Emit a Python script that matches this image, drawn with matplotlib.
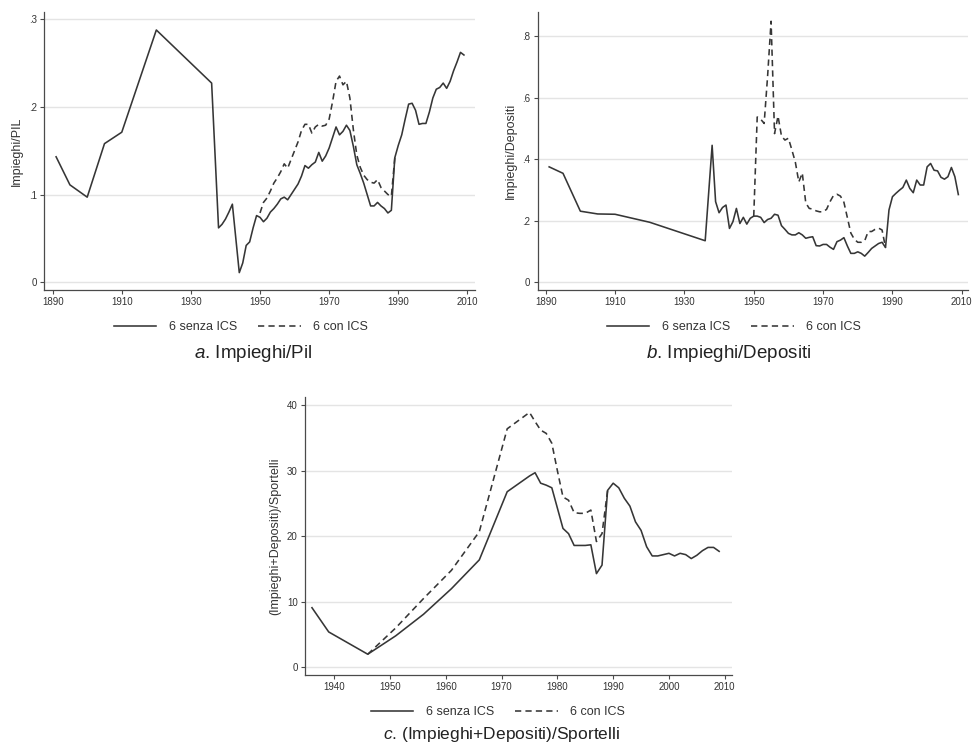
import matplotlib
matplotlib.use("Agg")
import matplotlib.pyplot as plt

plt.rcParams['font.family'] = ['Liberation Sans', 'DejaVu Sans']
plt.rcParams['mathtext.fontset'] = 'custom'
plt.rcParams['mathtext.rm'] = 'Liberation Sans'
plt.rcParams['mathtext.it'] = 'Liberation Sans:italic'
plt.rcParams['lines.scale_dashes'] = False

# anni comuni ai pannelli a e b
anni_ab = [1891, 1895, 1900, 1905, 1910, 1920, 1936] + list(range(1938, 2010))
anni_ics_ab = list(range(1950, 1990))

# a. Impieghi/Pil
pil_senza = [0.143, 0.111, 0.097, 0.158, 0.171, 0.2875, 0.227,
             0.062, 0.066, 0.072, 0.080, 0.089, 0.050, 0.011, 0.022, 0.042, 0.046,
             0.062, 0.076, 0.074, 0.069, 0.073, 0.080, 0.084, 0.089, 0.095, 0.097,
             0.094, 0.100, 0.106, 0.112, 0.121, 0.133, 0.130, 0.134, 0.137, 0.148,
             0.138, 0.144, 0.153, 0.165, 0.177, 0.168, 0.172, 0.179, 0.173, 0.155,
             0.134, 0.124, 0.113, 0.100, 0.087, 0.087, 0.091, 0.087, 0.084, 0.079,
             0.082, 0.142, 0.156, 0.168, 0.186, 0.203, 0.204, 0.196, 0.180, 0.181,
             0.181, 0.194, 0.210, 0.220, 0.222, 0.227, 0.221, 0.229, 0.241, 0.251,
             0.262, 0.259]
pil_con = [0.079, 0.091, 0.096, 0.104, 0.113, 0.119, 0.126, 0.135, 0.130, 0.140,
           0.150, 0.160, 0.173, 0.180, 0.180, 0.170, 0.177, 0.180, 0.178, 0.179,
           0.186, 0.206, 0.229, 0.235, 0.225, 0.229, 0.210, 0.174, 0.145, 0.131,
           0.122, 0.117, 0.114, 0.113, 0.117, 0.108, 0.104, 0.100, 0.098, 0.142]

# b. Impieghi/Depositi
dep_senza = [0.375, 0.354, 0.231, 0.222, 0.221, 0.195, 0.135,
             0.445, 0.262, 0.226, 0.243, 0.251, 0.175, 0.197, 0.240, 0.191, 0.211,
             0.189, 0.208, 0.215, 0.215, 0.211, 0.194, 0.204, 0.208, 0.221, 0.218,
             0.184, 0.172, 0.159, 0.154, 0.154, 0.161, 0.154, 0.143, 0.146, 0.148,
             0.119, 0.118, 0.123, 0.123, 0.114, 0.107, 0.132, 0.137, 0.145, 0.118,
             0.094, 0.094, 0.099, 0.094, 0.085, 0.097, 0.110, 0.118, 0.126, 0.130,
             0.113, 0.235, 0.278, 0.289, 0.299, 0.308, 0.332, 0.305, 0.291, 0.332,
             0.316, 0.316, 0.375, 0.386, 0.364, 0.362, 0.341, 0.335, 0.343, 0.373,
             0.343, 0.285]
dep_con = [0.215, 0.537, 0.530, 0.516, 0.670, 0.848, 0.483, 0.540, 0.475, 0.462,
           0.468, 0.430, 0.390, 0.326, 0.355, 0.258, 0.240, 0.238, 0.232, 0.229,
           0.229, 0.237, 0.262, 0.282, 0.286, 0.280, 0.260, 0.210, 0.160, 0.140,
           0.130, 0.130, 0.135, 0.165, 0.165, 0.172, 0.176, 0.170, 0.113]
anni_dep_con = list(range(1950, 1989))

# c. (Impieghi+Depositi)/Sportelli
anni_c = [1936, 1939, 1946, 1951, 1956, 1961, 1966, 1971] + list(range(1975, 2010))
sport_senza = [9.1, 5.4, 2.0, 4.8, 8.1, 12.0, 16.4, 26.8,
               29.2, 29.7, 28.1, 27.8, 27.4, 24.3, 21.2, 20.4, 18.6, 18.6, 18.6,
               18.7, 14.3, 15.6, 27.0, 28.1, 27.4, 25.8, 24.6, 22.2, 20.9, 18.4,
               17.0, 17.0, 17.2, 17.4, 17.0, 17.4, 17.2, 16.6, 17.1, 17.8, 18.3,
               18.3, 17.7]
anni_c_con = [1946, 1951, 1956, 1961, 1966, 1971] + list(range(1975, 1990))
sport_con = [2.0, 6.0, 10.5, 14.8, 20.7, 36.4,
             38.9, 37.5, 36.2, 35.7, 34.2, 30.0, 26.0, 25.5, 23.6, 23.5, 23.5,
             24.0, 19.2, 20.4, 27.0]

xticks_ab = [1890, 1910, 1930, 1950, 1970, 1990, 2010]
xticks_c = [1940, 1950, 1960, 1970, 1980, 1990, 2000, 2010]
yticks_a, ylab_a = [0, 0.1, 0.2, 0.3], ['0', '.1', '.2', '.3']
yticks_b, ylab_b = [0, 0.2, 0.4, 0.6, 0.8], ['0', '.2', '.4', '.6', '.8']
yticks_c, ylab_c = [0, 10, 20, 30, 40], ['0', '10', '20', '30', '40']

LINE = '#363636'
GRID = '#e4e4e4'
AX = '#4a4a4a'
DASH = (0, (4.5, 3.0))
LW = 1.15

fig = plt.figure(figsize=(9.72, 7.51), dpi=100)
W, H = 972, 751


def make_ax(x0, x1, y_top, y_bot):
    return fig.add_axes([x0 / W, 1 - y_bot / H, (x1 - x0) / W, (y_bot - y_top) / H])


def style(ax, xlim, ylim, xt, yt, ylabs, ylabel):
    ax.set_xlim(*xlim)
    ax.set_ylim(*ylim)
    ax.set_xticks(xt)
    ax.set_xticklabels([str(v) for v in xt])
    ax.set_yticks(yt)
    ax.set_yticklabels(ylabs)
    for v in yt:
        ax.axhline(v, color=GRID, lw=1.0, zorder=0)
    for s in ['top', 'right']:
        ax.spines[s].set_visible(False)
    for s in ['left', 'bottom']:
        ax.spines[s].set_color(AX)
        ax.spines[s].set_linewidth(0.9)
    ax.tick_params(direction='out', length=3.2, width=0.8, color=AX,
                   labelsize=7.0, labelcolor='#333333', pad=2)
    ax.set_ylabel(ylabel, fontsize=9.0, color='#333333', labelpad=4)


def legenda(ax, cx, cy):
    leg = ax.legend(loc='center', bbox_to_anchor=(cx / W, 1 - cy / H),
                    bbox_transform=fig.transFigure, ncol=2, frameon=False,
                    fontsize=9.0, handlelength=3.4, handletextpad=1.0,
                    columnspacing=1.7, borderaxespad=0, labelcolor='#333333')
    return leg


# pannello a
ax_a = make_ax(44, 475, 12, 290)
ax_a.plot(anni_ab, pil_senza, color=LINE, lw=LW, label='6 senza ICS')
ax_a.plot(anni_ics_ab, pil_con, color=LINE, lw=LW, ls=DASH, label='6 con ICS')
style(ax_a, (1887.5, 2012.2), (-0.0088, 0.308), xticks_ab, yticks_a, ylab_a, 'Impieghi/PIL')
legenda(ax_a, 241, 327)
fig.text(253 / W, 1 - 354 / H, r'$\mathit{a}$. Impieghi/Pil', ha='center', va='center',
         fontsize=13.5, color='#222222')

# pannello b
ax_b = make_ax(537.7, 967.7, 12, 290)
ax_b.plot(anni_ab, dep_senza, color=LINE, lw=LW, label='6 senza ICS')
ax_b.plot(anni_dep_con, dep_con, color=LINE, lw=LW, ls=DASH, label='6 con ICS')
style(ax_b, (1887.7, 2011.7), (-0.025, 0.878), xticks_ab, yticks_b, ylab_b, 'Impieghi/Depositi')
legenda(ax_b, 734, 327)
fig.text(729 / W, 1 - 354 / H, r'$\mathit{b}$. Impieghi/Depositi', ha='center', va='center',
         fontsize=13.5, color='#222222')

# pannello c
ax_c = make_ax(305, 731.7, 396.7, 675)
ax_c.plot(anni_c, sport_senza, color=LINE, lw=LW, label='6 senza ICS')
ax_c.plot(anni_c_con, sport_con, color=LINE, lw=LW, ls=DASH, label='6 con ICS')
style(ax_c, (1934.75, 2011.25), (-1.17, 41.3), xticks_c, yticks_c, ylab_c,
      '(Impieghi+Depositi)/Sportelli')
legenda(ax_c, 498, 712)
fig.text(501 / W, 1 - 735 / H, r'$\mathit{c}$. (Impieghi+Depositi)/Sportelli', ha='center',
         va='center', fontsize=12.5, color='#222222')

fig.savefig('out.png', dpi=100)
